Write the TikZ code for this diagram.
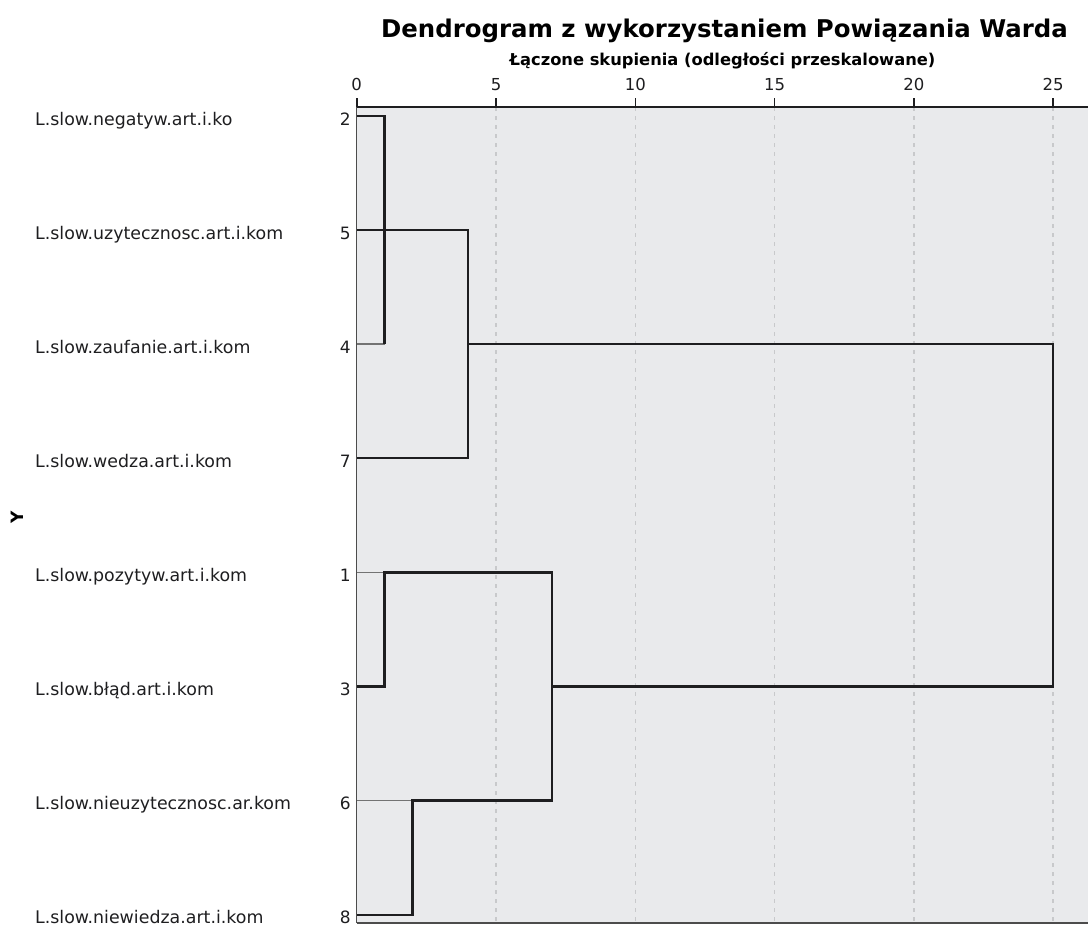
\documentclass[tikz,border=0pt]{standalone}
\usepackage{fontspec}
\setmainfont{DejaVu Sans}
\usetikzlibrary{positioning}

\definecolor{plotbg}{RGB}{233,234,236}
\definecolor{gridgray}{RGB}{200,201,203}
\definecolor{inkgray}{RGB}{30,30,32}

\tikzstyle{varlabel} = [anchor=base west, inner sep=0pt, text=inkgray, font=\fontsize{17.4}{17.4}\selectfont]
\tikzstyle{casenum} = [anchor=base east, inner sep=0pt, text=inkgray, font=\fontsize{17}{17}\selectfont]
\tikzstyle{ticklabel} = [anchor=base, inner sep=0pt, text=inkgray, font=\fontsize{16.5}{16.5}\selectfont]
\tikzstyle{link} = [line width=2.3pt, inkgray]
\tikzstyle{stub} = [line width=1.5pt, black!55]
\tikzstyle{gridline} = [gridgray, line width=1.6pt, dash pattern=on 4pt off 5pt]
\tikzstyle{frame} = [line width=1.4pt, black!70]

\begin{document}
\begin{tikzpicture}[x=1pt, y=-1pt]

    \useasboundingbox (0,0) rectangle (1088,926);

    \node [anchor=base, inner sep=0pt, font=\bfseries\fontsize{24.4}{24.4}\selectfont] (title) at (724.5,37.3)
        {Dendrogram z wykorzystaniem Powiązania Warda};
    \node [anchor=base, inner sep=0pt, font=\bfseries\fontsize{16.3}{16.3}\selectfont] (subtitle) at (722.5,65)
        {Łączone skupienia (odległości przeskalowane)};

    % plot area
    \fill [plotbg] (356.7,107) rectangle (1088,923);
    \foreach \v in {5,10,...,25}
        \draw [gridline] ({356.7+27.86*\v},107) -- ({356.7+27.86*\v},923);
    \draw [frame] (356.7,923) -- (1088,923);
    \draw [frame] (356.7,923) -- (356.7,107);
    \draw [line width=2.2pt, inkgray] (356.7,107) -- (1088,107);

    % axis ticks and distance coordinates
    \foreach \v in {0,5,...,25} {
        \draw [line width=1.6pt, inkgray] ({356.7+27.86*\v},98) -- ({356.7+27.86*\v},107);
        \node [ticklabel] (tick\v) at ({356.7+27.86*\v},90) {\v};
    }
    \foreach \v in {1,2,4,7,25}
        \coordinate (d\v) at ({356.7+27.86*\v},107);

    \node [rotate=90, inner sep=0pt, font=\bfseries\fontsize{17}{17}\selectfont] (ylab) at (17,517) {Y};

    % leaves
    \foreach \k/\num/\name in {1/2/L.slow.negatyw.art.i.ko,
                               2/5/L.slow.uzytecznosc.art.i.kom,
                               3/4/L.slow.zaufanie.art.i.kom,
                               4/7/L.slow.wedza.art.i.kom,
                               5/1/L.slow.pozytyw.art.i.kom,
                               6/3/L.slow.błąd.art.i.kom,
                               7/6/L.slow.nieuzytecznosc.ar.kom,
                               8/8/L.slow.niewiedza.art.i.kom} {
        \node [varlabel] (lab\num) at (35,{116+114.1*(\k-1)+9}) {\name};
        \node [casenum] (num\num) at (351,{116+114.1*(\k-1)+9}) {\num};
        \coordinate (c\num) at (356.7,{116+114.1*(\k-1)});
    }

    % links
    \draw [stub] (c4) -- (c4 -| d1);
    \draw [stub] (c1) -- (c1 -| d1);
    \draw [stub] (c6) -- (c6 -| d2);

    \draw [link] (c2) -| (c4 -| d1);
    \draw [link] (c5) -| (c7 -| d4) -- (c7);
    \draw [link] (c4 -| d4) -| (c3 -| d25) -- (c3 -| d7);
    \draw [link] (c3) -| (c1 -| d1) -| (c6 -| d7) -| (c8 -| d2) -- (c8);

\end{tikzpicture}
\end{document}
